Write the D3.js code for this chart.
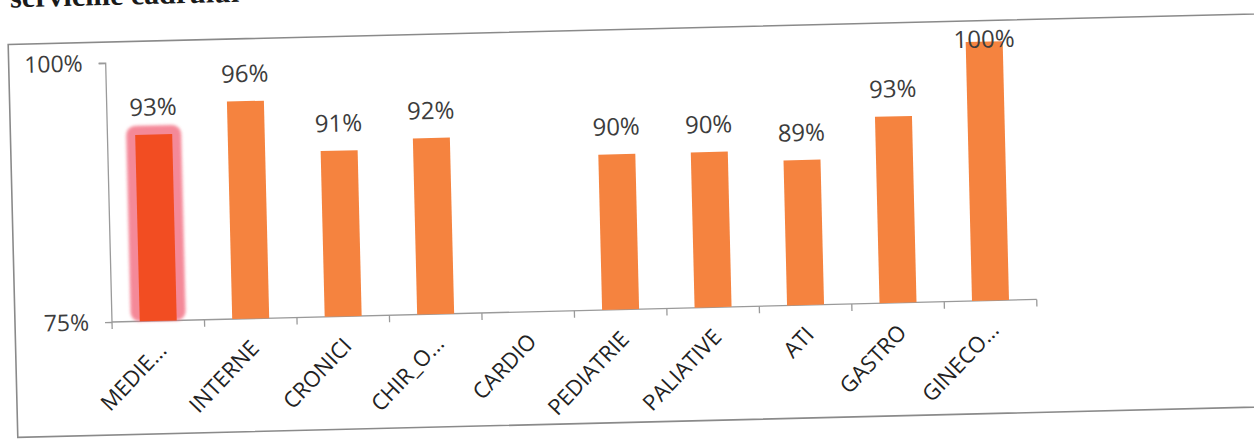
<!DOCTYPE html>
<html>
<head>
<meta charset="utf-8">
<script src="https://cdn.jsdelivr.net/npm/d3@7"></script>
<style>
  html, body { margin: 0; padding: 0; background: #ffffff; }
  svg { display: block; }
</style>
</head>
<body>
<svg id="chart" width="1254" height="440"></svg>
<script>
// Department values (percent); CARDIO has no value
const categories = ["MEDIE...", "INTERNE", "CRONICI", "CHIR_O...", "CARDIO", "PEDIATRIE", "PALIATIVE", "ATI", "GASTRO", "GINECO..."];
const values = [93, 96, 91, 92, null, 90, 90, 89, 93, 100];
const yTickValues = [75, 100];
const highlighted = ["MEDIE..."];
const titleText = "serviciile cadrului";

const svg = d3.select("#chart");

const defs = svg.append("defs");
defs.append("filter").attr("id", "glow").attr("x", "-50%").attr("y", "-20%").attr("width", "200%").attr("height", "140%")
  .append("feGaussianBlur").attr("stdDeviation", 1.5);

// whole page sits slightly tilted
const page = svg.append("g").attr("transform", "rotate(-1.4, 112, 322)");

page.append("text")
  .attr("x", 18).attr("y", 5)
  .attr("font-family", "'Liberation Serif', 'DejaVu Serif', serif")
  .attr("font-weight", "bold")
  .attr("font-size", 30)
  .attr("fill", "#1a1a1a")
  .text(titleText);

// chart frame
page.append("rect")
  .attr("x", 15).attr("y", 42).attr("width", 1400).attr("height", 393)
  .attr("fill", "none").attr("stroke", "#8a8a8a").attr("stroke-width", 1.6);

const x = d3.scaleBand().domain(categories).range([112, 1037]).paddingInner(0.6).paddingOuter(0.3);
const y = d3.scaleLinear().domain([75, 100]).range([322, 63]);

const axisColor = "#9a9a9a";
const textColor = "#3c3c3c";
const font = "'Open Sans', 'Noto Sans', sans-serif";

// y axis
const yAxis = page.append("g").attr("transform", "translate(112,0)")
  .call(d3.axisLeft(y).tickValues(yTickValues).tickSize(7).tickPadding(16).tickFormat(d => d + "%"));
yAxis.select(".domain").attr("stroke", axisColor).attr("stroke-width", 1.3).attr("d", `M-7,${y(100)}H0V${y(75)}`);
yAxis.selectAll(".tick line").attr("stroke", axisColor).attr("stroke-width", 1.3);
yAxis.selectAll(".tick text").attr("font-family", font).attr("font-size", 23).attr("fill", textColor);

// x axis with ticks at category boundaries
const step = x.step();
const boundaries = d3.range(categories.length + 1).map(i => x.range()[0] + i * step);
const xAxis = page.append("g");
xAxis.append("line")
  .attr("x1", x.range()[0]).attr("x2", x.range()[1])
  .attr("y1", y(75)).attr("y2", y(75))
  .attr("stroke", axisColor).attr("stroke-width", 1.3);
xAxis.selectAll(".btick").data(boundaries).join("line")
  .attr("x1", d => d).attr("x2", d => d)
  .attr("y1", y(75)).attr("y2", y(75) + 7)
  .attr("stroke", axisColor).attr("stroke-width", 1.3);

xAxis.selectAll(".cat").data(categories).join("text")
  .attr("transform", d => `translate(${x(d) + x.bandwidth() / 2 + 9},${y(75) + 31}) rotate(-45)`)
  .attr("text-anchor", "end")
  .attr("font-family", font).attr("font-size", 22).attr("fill", "#222222")
  .text(d => d);

// bars
const data = categories.map((c, i) => ({ cat: c, value: values[i] })).filter(d => d.value != null);

const glowPad = 9;
page.selectAll(".glow").data(data.filter(d => highlighted.includes(d.cat))).join("rect")
  .attr("x", d => x(d.cat) - glowPad)
  .attr("y", d => y(d.value) - glowPad)
  .attr("width", x.bandwidth() + 2 * glowPad)
  .attr("height", d => y(75) - y(d.value) + glowPad)
  .attr("rx", 9)
  .attr("fill", "#f37487")
  .attr("opacity", 0.85)
  .attr("filter", "url(#glow)");

page.selectAll(".bar").data(data).join("rect")
  .attr("x", d => x(d.cat))
  .attr("y", d => y(d.value))
  .attr("width", x.bandwidth())
  .attr("height", d => y(75) - y(d.value))
  .attr("fill", d => highlighted.includes(d.cat) ? "#f24d22" : "#f5833f");

// value labels, kept inside the plot area
page.selectAll(".val").data(data).join("text")
  .attr("x", d => x(d.cat) + x.bandwidth() / 2)
  .attr("y", d => Math.max(y(d.value) - 19, y(100) + 6))
  .attr("text-anchor", "middle")
  .attr("font-family", font).attr("font-size", 24).attr("fill", textColor)
  .text(d => d.value + "%");
</script>
</body>
</html>
